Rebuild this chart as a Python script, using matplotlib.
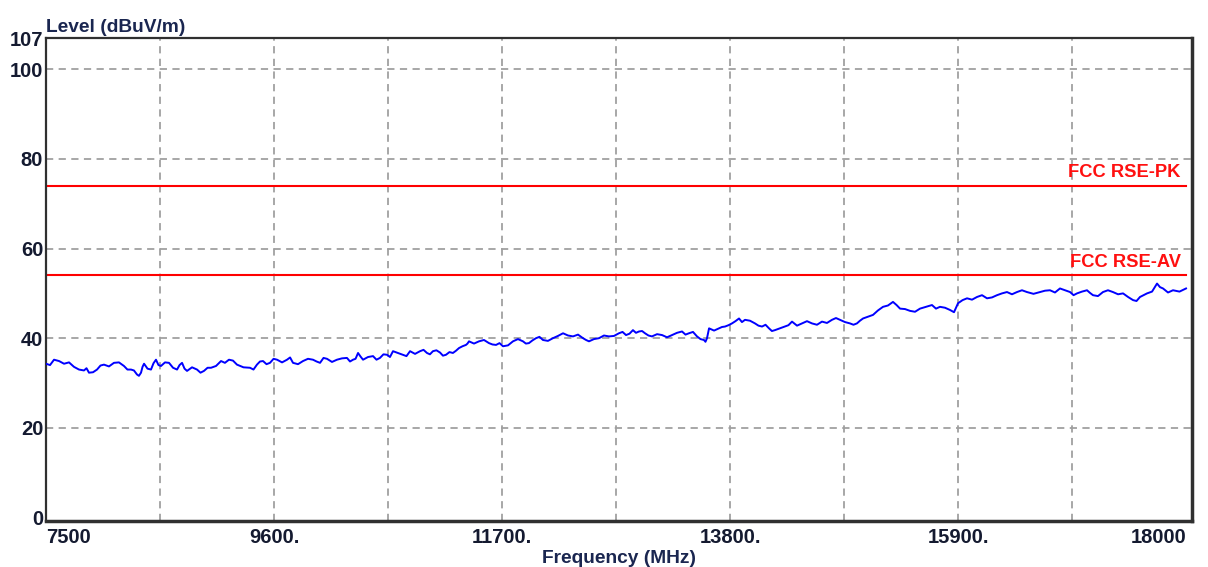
import numpy as np
import matplotlib
matplotlib.use("Agg")
import matplotlib.pyplot as plt

plt.rcParams['font.family'] = ['Liberation Sans', 'DejaVu Sans']

freq_mhz = [
    7500, 7574, 7666, 7758, 7850, 7896, 7970, 8034, 8126, 8218,
    8283, 8338, 8375, 8403, 8467, 8513, 8559, 8633, 8707, 8753,
    8799, 8891, 8955, 9020, 9112, 9185, 9259, 9379, 9443, 9499,
    9563, 9628, 9720, 9775, 9867, 9959, 10024, 10088, 10180, 10272,
    10328, 10374, 10420, 10512, 10576, 10641, 10696, 10788, 10853, 10945,
    11009, 11064, 11129, 11184, 11248, 11304, 11368, 11396, 11488, 11580,
    11645, 11709, 11801, 11893, 11948, 12013, 12077, 12169, 12262, 12354,
    12446, 12501, 12593, 12685, 12777, 12842, 12906, 12962, 13017, 13081,
    13174, 13266, 13358, 13422, 13496, 13560, 13588, 13607, 13699, 13754,
    13818, 13883, 13938, 14030, 14095, 14159, 14214, 14306, 14371, 14463,
    14555, 14647, 14739, 14813, 14905, 14969, 15025, 15117, 15209, 15301,
    15366, 15458, 15550, 15660, 15734, 15826, 15900, 15983, 16075, 16167,
    16259, 16351, 16443, 16535, 16655, 16747, 16839, 16932, 16996, 17088,
    17143, 17235, 17327, 17420, 17512, 17576, 17641, 17733, 17788, 17880,
    18000,
]
level_dbuv = [
    34.3, 35.2, 34.3, 33.6, 32.8, 32.3, 33.0, 34.1, 34.5, 33.8,
    33.0, 31.9, 32.3, 34.3, 33.0, 35.2, 33.8, 34.5, 33.0, 34.5,
    32.7, 33.0, 32.7, 33.4, 34.9, 35.2, 34.1, 33.4, 34.1, 34.9,
    34.5, 35.2, 35.2, 34.5, 34.9, 35.2, 34.5, 35.4, 35.2, 35.6,
    35.2, 36.7, 35.2, 36.0, 35.6, 36.3, 37.1, 36.3, 37.1, 37.1,
    36.7, 37.1, 36.8, 36.3, 36.7, 37.8, 38.5, 39.3, 39.3, 38.9,
    38.5, 38.2, 39.3, 39.3, 38.9, 40.0, 39.6, 40.0, 41.1, 40.4,
    40.0, 39.3, 40.0, 40.4, 41.1, 40.7, 41.8, 41.5, 41.1, 40.4,
    40.7, 40.7, 41.5, 41.1, 40.4, 39.6, 40.0, 42.2, 42.2, 42.6,
    43.3, 44.4, 44.1, 43.3, 42.6, 42.2, 41.8, 42.6, 43.7, 43.3,
    43.3, 43.7, 44.1, 44.1, 43.3, 43.3, 44.4, 45.2, 47.0, 48.1,
    46.6, 46.1, 46.6, 47.4, 47.0, 46.3, 47.8, 48.9, 49.2, 48.9,
    49.6, 50.3, 50.3, 50.3, 50.3, 50.7, 51.1, 50.3, 50.0, 50.7,
    49.6, 50.3, 50.3, 50.0, 48.5, 49.2, 50.0, 52.2, 51.1, 50.7,
    51.1,
]

# in-between readings (the fine ripple of the trace)
freq_mid = [
    7537, 7620, 7712, 7804, 7873, 7933, 8002, 8080, 8172, 8250,
    8310, 8356, 8389, 8435, 8490, 8536, 8596, 8670, 8730, 8776,
    8845, 8923, 8988, 9066, 9148, 9222, 9319, 9411, 9471, 9531,
    9596, 9674, 9748, 9821, 9913, 9992, 10056, 10134, 10226, 10300,
    10351, 10397, 10466, 10544, 10608, 10668, 10742, 10820, 10899, 10977,
    11036, 11096, 11156, 11216, 11276, 11336, 11382, 11442, 11534, 11612,
    11677, 11755, 11847, 11920, 11980, 12045, 12123, 12215, 12308, 12400,
    12474, 12547, 12639, 12731, 12810, 12874, 12934, 12990, 13049, 13128,
    13220, 13312, 13390, 13459, 13528, 13574, 13653, 13726, 13786, 13850,
    13910, 13984, 14062, 14127, 14186, 14260, 14338, 14417, 14509, 14601,
    14693, 14776, 14859, 14937, 14997, 15071, 15163, 15255, 15334, 15412,
    15504, 15605, 15697, 15780, 15863, 15942, 16029, 16121, 16213, 16305,
    16397, 16489, 16595, 16701, 16793, 16886, 16964, 17042, 17116, 17189,
    17281, 17374, 17466, 17544, 17609, 17687, 17760, 17834, 17940,
]
level_mid = [
    34.0, 34.9, 34.6, 33.0, 33.3, 32.4, 33.9, 33.7, 34.6, 33.0,
    32.8, 31.6, 33.6, 33.2, 34.4, 34.0, 34.6, 33.4, 34.0, 33.2,
    33.5, 32.3, 33.4, 33.8, 34.5, 35.0, 33.5, 33.0, 34.8, 34.2,
    35.4, 34.6, 35.7, 34.2, 35.4, 34.8, 35.6, 34.7, 35.5, 34.8,
    35.4, 35.9, 35.8, 35.2, 36.4, 35.8, 36.7, 36.0, 36.5, 37.4,
    36.4, 37.3, 36.1, 36.9, 37.2, 38.2, 38.8, 38.8, 39.6, 38.6,
    38.9, 38.4, 39.8, 38.8, 39.5, 40.3, 39.4, 40.5, 40.6, 40.8,
    39.6, 39.8, 40.6, 40.5, 41.4, 41.0, 41.2, 41.6, 40.6, 40.9,
    40.2, 41.2, 40.8, 41.4, 39.8, 39.2, 41.7, 42.5, 42.9, 43.8,
    43.6, 43.9, 42.8, 43.0, 41.6, 42.2, 42.9, 42.8, 43.8, 43.0,
    43.4, 44.5, 43.6, 43.0, 43.9, 44.8, 46.2, 47.3, 47.4, 46.5,
    45.9, 47.0, 46.6, 46.8, 45.8, 48.5, 48.6, 49.6, 49.1, 50.0,
    49.8, 50.7, 49.9, 50.6, 50.2, 50.7, 49.6, 50.4, 50.1, 49.4,
    50.7, 49.8, 49.2, 48.3, 49.6, 50.4, 51.4, 50.2, 50.4,
]

limit_names = ["FCC RSE-PK", "FCC RSE-AV"]
limit_values = [74, 54]

x_ticks = [7500, 9600, 11700, 13800, 15900, 18000]
x_tick_labels = ["7500", "9600.", "11700.", "13800.", "15900.", "18000"]
x_grid = [8550, 9600, 10650, 11700, 12750, 13800, 14850, 15900, 16950]
y_ticks = [0, 20, 40, 60, 80, 100, 107]
y_grid = [20, 40, 60, 80, 100]

# merge both sets of readings into one sweep
f_all = np.array(freq_mhz + freq_mid)
l_all = np.array(level_dbuv + level_mid)
order = np.argsort(f_all)
f_all, l_all = f_all[order], l_all[order]

text_col = '#141a30'
fig = plt.figure(figsize=(12.08, 5.67), dpi=100)
ax = fig.add_axes([46 / 1208, 46 / 567, 1146 / 1208, 483 / 567])

for g in y_grid:
    ax.axhline(g, color='#a0a0a0', lw=1.3, ls=(0, (4, 3)), zorder=1)
for g in x_grid:
    ax.axvline(g, color='#a0a0a0', lw=1.3, ls=(0, (4, 3)), zorder=1)

for name, val in zip(limit_names, limit_values):
    ax.plot([7500, 18000], [val, val], color='#ff0000', lw=1.5, zorder=2)
    ax.text(17950, val + 1.0, name, color='#ff1010', fontsize=13.2, fontweight='bold',
            ha='right', va='bottom')

ax.plot(f_all, l_all, color='#0000ff', lw=1.4, zorder=3)

ax.set_xlim(7500, 18055)
ax.set_ylim(-0.8, 107)

ax.set_xticks(x_ticks)
ax.set_xticklabels(x_tick_labels, fontsize=14.5, fontweight='bold', color=text_col)
labs = ax.get_xticklabels()
labs[0].set_ha('left')
labs[-1].set_ha('right')
ax.set_yticks(y_ticks)
ax.set_yticklabels([str(v) for v in y_ticks], fontsize=14.5, fontweight='bold', color=text_col)
ax.tick_params(axis='y', length=0, pad=2)
ax.tick_params(axis='x', length=0, pad=5)

for s in ax.spines.values():
    s.set_color('#303030')
    s.set_linewidth(1.6)
ax.spines['right'].set_linewidth(2.5)
ax.spines['bottom'].set_linewidth(2.5)

fig.text(46 / 1208, 1 - 32 / 567, "Level (dBuV/m)", fontsize=13.8, fontweight='bold',
         color='#1a2650', ha='left', va='baseline')
ax.set_xlabel("Frequency (MHz)", fontsize=13.8, fontweight='bold', color='#1a2650', labelpad=2)

fig.savefig("out.png", dpi=100)
